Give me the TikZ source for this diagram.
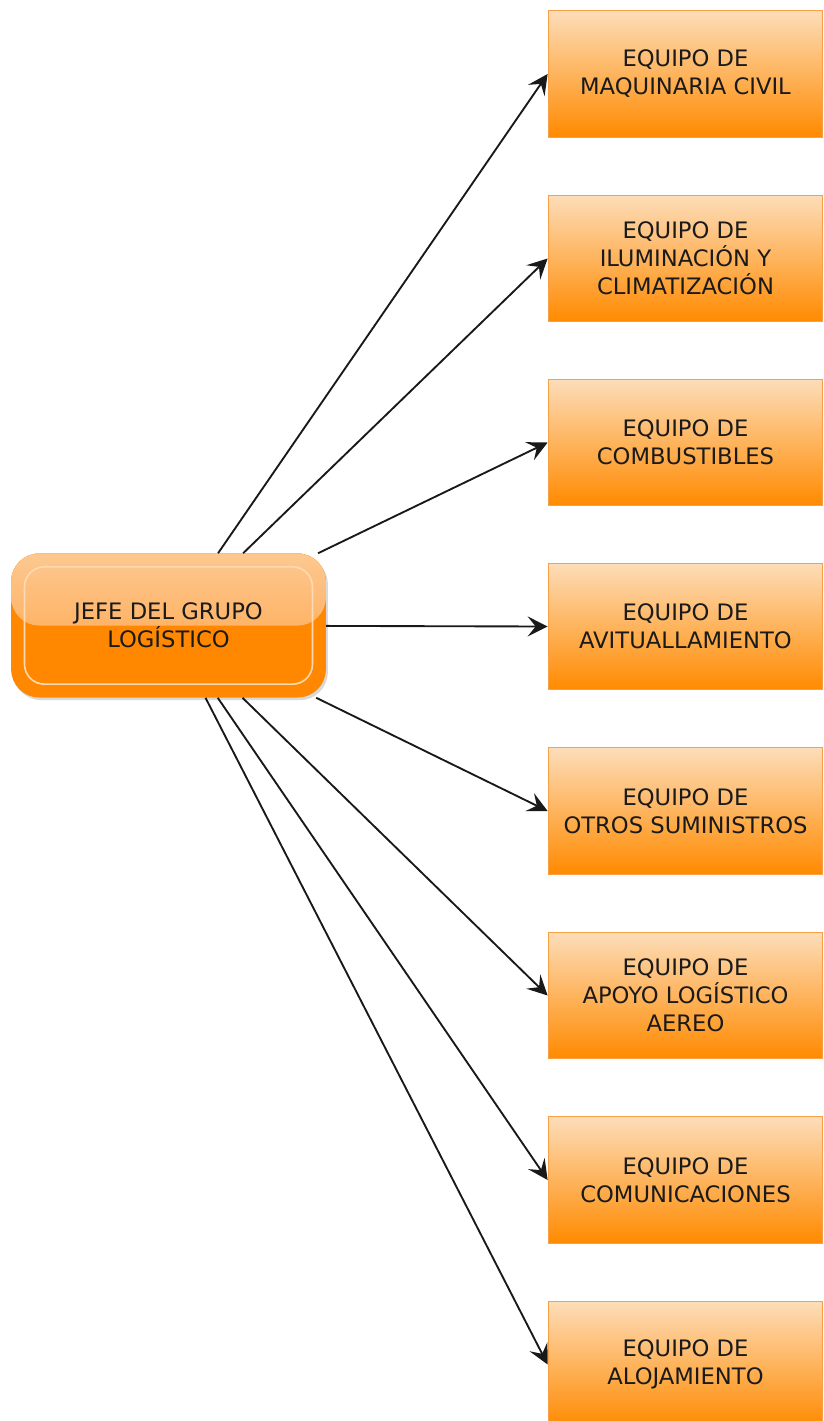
\documentclass[tikz,border=0pt]{standalone}
\usepackage{fontspec}
\setmainfont{DejaVu Sans}
\usetikzlibrary{arrows.meta,shadows}

\definecolor{boxtop}{HTML}{FDDDB9}
\definecolor{boxbot}{HTML}{FF8A00}
\definecolor{boxline}{HTML}{F7A046}
\definecolor{jefetop}{HTML}{FDC890}
\definecolor{jefemid}{HTML}{FFA040}
\definecolor{jefebot}{HTML}{FF8800}
\definecolor{ink}{HTML}{1A1A1A}

\tikzset{
  teambox/.style={draw=boxline, line width=0.8pt, top color=boxtop, bottom color=boxbot,
    minimum width=206pt, minimum height=95pt, inner sep=0pt, align=center, text=ink,
    font=\fontsize{17}{21}\selectfont},
  jefebox/.style={rounded corners=21pt, fill=jefebot, minimum width=236pt, minimum height=108pt,
    inner sep=0pt, align=center, text=ink, font=\fontsize{17}{21}\selectfont,
    drop shadow={shadow xshift=1.5pt, shadow yshift=-2pt, opacity=.3, fill=black!50},
    path picture={
      \fill[top color=jefetop, bottom color=jefemid] (path picture bounding box.north west) rectangle (path picture bounding box.east);
      \draw[white!70!orange, line width=1.2pt, rounded corners=15pt] ([xshift=10pt,yshift=-10pt]path picture bounding box.north west) rectangle ([xshift=-10pt,yshift=10pt]path picture bounding box.south east);
    }},
  link/.style={draw=black!90, line width=1.4pt, -{Stealth[length=15pt,width=15pt,inset=6pt]}}
}

\begin{document}
\begin{tikzpicture}[x=0.75pt,y=-0.75pt]
\useasboundingbox (0,0) rectangle (824,1421);

\node[jefebox] (jefe) at (168.5,625.5) {JEFE DEL GRUPO\\LOGÍSTICO};

\node[teambox] (maquinaria) at (685.5,74) {EQUIPO DE\\MAQUINARIA CIVIL};
\node[teambox] (iluminacion) at (685.5,258.5) {EQUIPO DE\\ILUMINACIÓN Y\\CLIMATIZACIÓN};
\node[teambox] (combustibles) at (685.5,442.5) {EQUIPO DE\\COMBUSTIBLES};
\node[teambox] (avituallamiento) at (685.5,626.5) {EQUIPO DE\\AVITUALLAMIENTO};
\node[teambox] (suministros) at (685.5,811) {EQUIPO DE\\OTROS SUMINISTROS};
\node[teambox] (aereo) at (685.5,995.5) {EQUIPO DE\\APOYO LOGÍSTICO\\AEREO};
\node[teambox] (comunicaciones) at (685.5,1180) {EQUIPO DE\\COMUNICACIONES};
\node[teambox] (alojamiento) at (685.5,1364.5) {EQUIPO DE\\ALOJAMIENTO};

\draw[link] (jefe) -- (maquinaria.west);
\draw[link] (jefe) -- (iluminacion.west);
\draw[link] (jefe) -- (combustibles.west);
\draw[link] (jefe) -- (avituallamiento.west);
\draw[link] (jefe) -- (suministros.west);
\draw[link] (jefe) -- (aereo.west);
\draw[link] (jefe) -- (comunicaciones.west);
\draw[link] (jefe) -- (alojamiento.west);
\end{tikzpicture}
\end{document}
